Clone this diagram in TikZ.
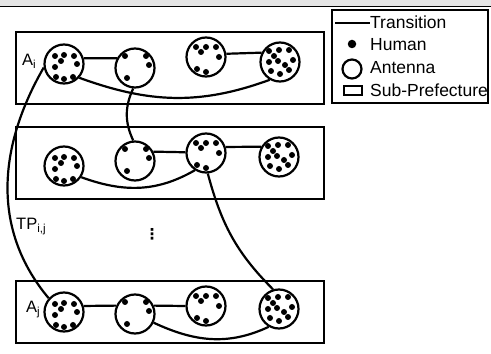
\documentclass[tikz,border=0pt]{standalone}
\usepackage{fontspec}
\setmainfont{Liberation Sans}
\newfontfamily\symfont{DejaVu Sans}
\usetikzlibrary{positioning}
\tikzset{
  ant/.style={circle, draw, line width=2.2pt, minimum size=39pt, inner sep=0pt},
  area/.style={rectangle, draw, line width=2.2pt, minimum width=308pt, inner sep=0pt},
  human/.style={circle, fill, minimum size=8.5pt, inner sep=0pt},
  trans/.style={line width=2.2pt},
  lbl/.style={font=\fontsize{16.5}{18}\selectfont, inner sep=0pt, anchor=base west},
  key/.style={font=\fontsize{17.5}{20}\selectfont, inner sep=0pt, anchor=west}
}

\begin{document}
\begin{tikzpicture}[x=1pt, y=1pt]
                \useasboundingbox (0,0) rectangle (491,354);
                \fill[gray!20] (0,348) rectangle (491,354);
                \draw[line width=1.5pt] (0,347.5) -- (491,347.5);
                \node[area, minimum height=72pt] (pi) at (170,286) {};
                \node[area, minimum height=72pt] (pk) at (170,191) {};
                \node[area, minimum height=62pt] (pj) at (170,42)  {};
                \node[ant] (a11) at (64,290)  {};
                \node[ant] (a12) at (135,286) {};
                \node[ant] (a13) at (206,297) {};
                \node[ant] (a14) at (280,292) {};
                \node[ant] (a21) at (64,188)  {};
                \node[ant] (a22) at (135,193) {};
                \node[ant] (a23) at (206,201) {};
                \node[ant] (a24) at (279,197) {};
                \node[ant] (a31) at (64,42)   {};
                \node[ant] (a32) at (135,40)  {};
                \node[ant] (a33) at (206,48)  {};
                \node[ant] (a34) at (279,45)  {};
                \foreach \n in {a11,a21,a31}
                  \foreach \dx/\dy in {-9/8,0/9,10/8,-3/3,-9/-3,13/0,-8/-13,0/-15,9/-13}
                    \fill (\n) ++(\dx,\dy) circle[radius=3pt];
                \foreach \n in {a12,a22,a32}
                  \foreach \dx/\dy in {-10/12,11/12,14/3,-8/-10}
                    \fill (\n) ++(\dx,\dy) circle[radius=3pt];
                \foreach \n in {a13,a23,a33}
                  \foreach \dx/\dy in {-10/10,0/10,10/10,-5/5,13/0,-9/-12,0/-15}
                    \fill (\n) ++(\dx,\dy) circle[radius=3pt];
                \foreach \n in {a14,a24,a34}
                  \foreach \dx/\dy in {-11/11,-1/12,9/12,-6/6,-11/0,-2/1,5/-3,13/2,9/-8,-9/-9,0/-12}
                    \fill (\n) ++(\dx,\dy) circle[radius=3pt];
                \draw[trans] (a11.16) -- (a12.152);
                \draw[trans] (a13.9) -- (a14.153);
                \draw[trans] (a11.-42) to[out=-20, in=-160] (a14.-120);
                \draw[trans] (a22.27) -- (a23.178);
                \draw[trans] (a23.17) -- (a24.150);
                \draw[trans] (a21.-33) to[out=-20, in=-150] (a23.-123);
                \draw[trans] (a31.17) -- (a32.156);
                \draw[trans] (a32.24) -- (a33.180);
                \draw[trans] (a32.-25) to[out=-25, in=-155] (a34.-120);
                \draw[trans] (a11.190) to[out=-120, in=130] (a31.138);
                \draw[trans] (a12.-95) to[out=-115, in=115] (a22.95);
                \draw[trans] (a23.-85) to[out=-75, in=135] (a34.107);
                \node[lbl] (ai) at (22,288) {A\textsubscript{i}};
                \node[lbl] (aj) at (26,41)  {A\textsubscript{j}};
                \node[lbl] (tp) at (16,124) {TP\textsubscript{i,j}};
                \node[font=\symfont\bfseries\fontsize{15}{15}\selectfont, inner sep=0pt] (vd) at (152,120) {⋮};
                \node[draw, line width=2.2pt, minimum width=156pt, minimum height=93pt] (legend) at (410,297.5) {};
                \coordinate (t1) at (335,331);
                \node[key] (ktr) at (370,332) {Transition};
                \draw[trans] (t1) -- (ktr.west |- t1);
                \node[human] (hm) at (352,310) {};
                \node[key] (khm) at (370,309) {Human};
                \node[ant, minimum size=19pt] (an) at (352,285) {};
                \node[key] (kan) at (370,286) {Antenna};
                \node[draw, line width=2.2pt, minimum width=18pt, minimum height=9pt, inner sep=0pt] (sp) at (353,263.5) {};
                \node[key] (ksp) at (370,264) {Sub-Prefecture};
              \end{tikzpicture}
\end{document}
